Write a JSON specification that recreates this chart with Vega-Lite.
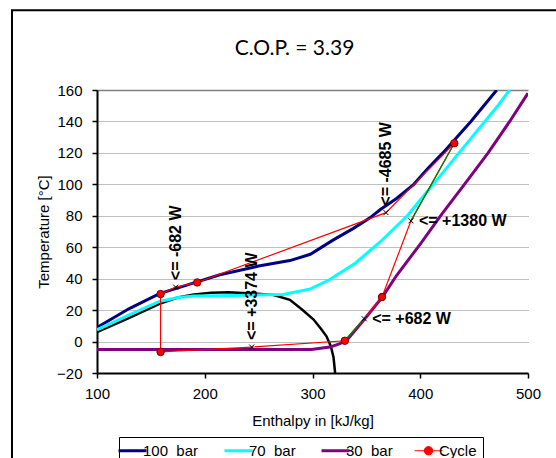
{
  "$schema": "https://vega.github.io/schema/vega-lite/v6.json",
  "width": 431,
  "height": 283,
  "autosize": {"type": "none"},
  "padding": {"left": 97, "top": 90, "right": 28, "bottom": 85},
  "background": "white",
  "config": {
    "font": "Liberation Sans",
    "view": {"stroke": null},
    "axis": {
      "labelFont": "Liberation Sans", "labelFontSize": 15, "labelColor": "black", "labelOverlap": false, "labelFlush": false,
      "titleFont": "Liberation Sans", "titleFontSize": 15, "titleFontWeight": "normal", "titleColor": "black",
      "domainColor": "black", "domainWidth": 2, "tickColor": "black", "tickWidth": 1.5, "tickSize": 5
    }
  },
  "title": {"text": "C.O.P. = 3.39", "font": "Lato", "fontSize": 21, "fontWeight": "normal", "color": "black", "anchor": "middle", "frame": "group", "dx": -18, "offset": -50},
  "datasets": {
    "one": [{}],
    "dome": [
      {"h": 100, "T": 6}, {"h": 130, "T": 15}, {"h": 158, "T": 24}, {"h": 175, "T": 28}, {"h": 190, "T": 30},
      {"h": 206, "T": 31}, {"h": 222, "T": 31.3}, {"h": 240, "T": 30.8}, {"h": 264, "T": 29.6}, {"h": 279, "T": 26.5},
      {"h": 290, "T": 20.5}, {"h": 301, "T": 14}, {"h": 308, "T": 8}, {"h": 313, "T": 3.3}, {"h": 317, "T": -3},
      {"h": 319.5, "T": -10}, {"h": 321, "T": -20}
    ],
    "curves": [
      {"series": "100 bar", "h": 100, "T": 9}, {"series": "100 bar", "h": 130, "T": 21}, {"series": "100 bar", "h": 158, "T": 30.5},
      {"series": "100 bar", "h": 193, "T": 38}, {"series": "100 bar", "h": 214, "T": 42.5}, {"series": "100 bar", "h": 250, "T": 48},
      {"series": "100 bar", "h": 279, "T": 51.5}, {"series": "100 bar", "h": 298, "T": 55.5}, {"series": "100 bar", "h": 319, "T": 64.5},
      {"series": "100 bar", "h": 338, "T": 72}, {"series": "100 bar", "h": 353, "T": 78.5}, {"series": "100 bar", "h": 363, "T": 84},
      {"series": "100 bar", "h": 378, "T": 91}, {"series": "100 bar", "h": 394, "T": 100}, {"series": "100 bar", "h": 407, "T": 110},
      {"series": "100 bar", "h": 421, "T": 120}, {"series": "100 bar", "h": 434, "T": 130}, {"series": "100 bar", "h": 447, "T": 140},
      {"series": "100 bar", "h": 459, "T": 150}, {"series": "100 bar", "h": 471, "T": 160},
      {"series": "70 bar", "h": 100, "T": 7.5}, {"series": "70 bar", "h": 130, "T": 17}, {"series": "70 bar", "h": 158, "T": 25.5},
      {"series": "70 bar", "h": 175, "T": 28}, {"series": "70 bar", "h": 190, "T": 29}, {"series": "70 bar", "h": 230, "T": 29.3},
      {"series": "70 bar", "h": 273, "T": 30}, {"series": "70 bar", "h": 298, "T": 33.5}, {"series": "70 bar", "h": 315, "T": 39},
      {"series": "70 bar", "h": 340, "T": 50}, {"series": "70 bar", "h": 363, "T": 63.5}, {"series": "70 bar", "h": 388, "T": 80},
      {"series": "70 bar", "h": 400, "T": 90}, {"series": "70 bar", "h": 412, "T": 100}, {"series": "70 bar", "h": 424, "T": 110},
      {"series": "70 bar", "h": 436, "T": 120}, {"series": "70 bar", "h": 448, "T": 130}, {"series": "70 bar", "h": 460, "T": 140},
      {"series": "70 bar", "h": 472, "T": 150}, {"series": "70 bar", "h": 483, "T": 160},
      {"series": "30 bar", "h": 100, "T": -5}, {"series": "30 bar", "h": 299, "T": -5}, {"series": "30 bar", "h": 316, "T": -3.5},
      {"series": "30 bar", "h": 325, "T": -1.5}, {"series": "30 bar", "h": 332, "T": 1}, {"series": "30 bar", "h": 348, "T": 14},
      {"series": "30 bar", "h": 365, "T": 28.5}, {"series": "30 bar", "h": 378, "T": 42}, {"series": "30 bar", "h": 400, "T": 62},
      {"series": "30 bar", "h": 420, "T": 81}, {"series": "30 bar", "h": 441, "T": 100}, {"series": "30 bar", "h": 463, "T": 120},
      {"series": "30 bar", "h": 483, "T": 140}, {"series": "30 bar", "h": 500, "T": 158}
    ],
    "cycle": [
      {"i": 1, "h": 159, "T": 30.2, "kind": "c"},
      {"i": 2, "h": 173, "T": 34.6, "kind": "x", "label": "<= -682 W"},
      {"i": 3, "h": 193, "T": 37.6, "kind": "c"},
      {"i": 4, "h": 368.2, "T": 82, "kind": "x", "label": "<= -4685 W"},
      {"i": 5, "h": 431.6, "T": 126.1, "kind": "c"},
      {"i": 6, "h": 391.4, "T": 76.8, "kind": "x", "label": "<= +1380 W"},
      {"i": 7, "h": 364.5, "T": 28.3, "kind": "c"},
      {"i": 8, "h": 348, "T": 14.5, "kind": "x", "label": "<= +682 W"},
      {"i": 9, "h": 330, "T": 0.5, "kind": "c"},
      {"i": 10, "h": 243.6, "T": -3.5, "kind": "x", "label": "<= +3374 W"},
      {"i": 11, "h": 159, "T": -6.6, "kind": "c"},
      {"i": 12, "h": 159, "T": 30.2, "kind": "end"}
    ],
    "green": [
      {"seg": "a", "h": 391.4, "T": 76.8}, {"seg": "a", "h": 431.6, "T": 126.1},
      {"seg": "b", "h": 330, "T": 0.5}, {"seg": "b", "h": 348, "T": 14.5}
    ]
  },
  "layer": [
    {
      "data": {"name": "one"},
      "mark": {"type": "rect", "filled": false, "stroke": "black", "strokeWidth": 2, "clip": false},
      "encoding": {"x": {"datum": 21.1}, "x2": {"datum": 560}, "y": {"datum": 210.8}, "y2": {"datum": -80}}
    },
    {
      "data": {"name": "dome"},
      "mark": {"type": "line", "color": "black", "strokeWidth": 2.5, "clip": true},
      "encoding": {"x": {"field": "h", "type": "quantitative"}, "y": {"field": "T", "type": "quantitative"}}
    },
    {
      "data": {"name": "curves"},
      "mark": {"type": "line", "strokeWidth": 3, "clip": true},
      "encoding": {
        "x": {"field": "h", "type": "quantitative", "scale": {"domain": [100, 500], "nice": false, "zero": false},
              "axis": {"title": "Enthalpy in [kJ/kg]", "tickCount": 4, "grid": false, "labelOverlap": false, "labelFlush": false, "labelPadding": 8, "titlePadding": 12}},
        "y": {"field": "T", "type": "quantitative", "scale": {"domain": [-20, 160], "nice": false, "zero": false},
              "axis": {"title": "Temperature [°C]", "tickCount": 10, "labelOverlap": false, "labelFlush": false, "grid": true,
                "gridColor": "#808080",
                "gridDash": {"condition": {"test": "datum.value === 160", "value": []}, "value": [1, 1]},
                "gridWidth": {"condition": {"test": "datum.value === 160", "value": 1.5}, "value": 1},
                "labelPadding": 10, "titlePadding": 5}},
        "color": {"field": "series", "type": "nominal",
          "scale": {"domain": ["100 bar", "70 bar", "30 bar", "Cycle"], "range": ["#000080", "#00FFFF", "#800080", "#FF0000"]},
          "legend": {"orient": "none", "legendX": 22, "legendY": 347, "direction": "horizontal", "columns": 4, "title": null,
            "strokeColor": "black", "padding": 6, "fillColor": "white", "symbolType": "stroke", "symbolSize": 784, "symbolStrokeWidth": 3,
            "labelFontSize": 15, "labelFont": "Liberation Sans", "labelColor": "black", "columnPadding": 19, "labelOffset": 3,
            "labelExpr": "replace(datum.label, ' bar', '\u00a0\u00a0bar')",
            "encode": {"symbols": {"update": {
              "shape": {"signal": "datum.value === 'Cycle' ? 'M-1,0H1M-0.3,0A0.3,0.3 0 1,1 0.3,0A0.3,0.3 0 1,1 -0.3,0Z' : 'stroke'"},
              "strokeWidth": {"signal": "datum.value === 'Cycle' ? 1 : 3"},
              "fill": {"signal": "datum.value === 'Cycle' ? '#FF0000' : 'transparent'"}
            }}}}
        }
      }
    },
    {
      "data": {"name": "cycle"},
      "mark": {"type": "line", "color": "#FF0000", "strokeWidth": 1.2, "clip": true},
      "encoding": {"x": {"field": "h", "type": "quantitative"}, "y": {"field": "T", "type": "quantitative"}, "order": {"field": "i", "type": "quantitative"}}
    },
    {
      "data": {"name": "green"},
      "mark": {"type": "line", "color": "#008000", "strokeWidth": 1.3, "clip": true},
      "encoding": {"x": {"field": "h", "type": "quantitative"}, "y": {"field": "T", "type": "quantitative"}, "detail": {"field": "seg"}}
    },
    {
      "data": {"name": "cycle"},
      "transform": [{"filter": "datum.kind === 'c'"}],
      "mark": {"type": "point", "filled": true, "fill": "#FF0000", "stroke": "#700000", "strokeWidth": 1, "size": 55, "opacity": 1},
      "encoding": {"x": {"field": "h", "type": "quantitative"}, "y": {"field": "T", "type": "quantitative"}}
    },
    {
      "data": {"name": "cycle"},
      "transform": [{"filter": "datum.kind === 'x'"}],
      "mark": {"type": "point", "filled": false, "shape": "M-1,-1L1,1M1,-1L-1,1", "stroke": "black", "strokeWidth": 1, "size": 25, "opacity": 1},
      "encoding": {"x": {"field": "h", "type": "quantitative"}, "y": {"field": "T", "type": "quantitative"}}
    },
    {
      "data": {"name": "cycle"},
      "transform": [{"filter": "datum.i === 2 || datum.i === 4 || datum.i === 10"}],
      "mark": {"type": "text", "angle": 270, "align": "left", "baseline": "middle", "dx": 7, "font": "Liberation Sans", "fontSize": 16, "fontWeight": "bold", "color": "black"},
      "encoding": {"x": {"field": "h", "type": "quantitative"}, "y": {"field": "T", "type": "quantitative"}, "text": {"field": "label"}}
    },
    {
      "data": {"name": "cycle"},
      "transform": [{"filter": "datum.i === 6 || datum.i === 8"}],
      "mark": {"type": "text", "align": "left", "baseline": "middle", "dx": 8, "font": "Liberation Sans", "fontSize": 16, "fontWeight": "bold", "color": "black"},
      "encoding": {"x": {"field": "h", "type": "quantitative"}, "y": {"field": "T", "type": "quantitative"}, "text": {"field": "label"}}
    }
  ]
}
